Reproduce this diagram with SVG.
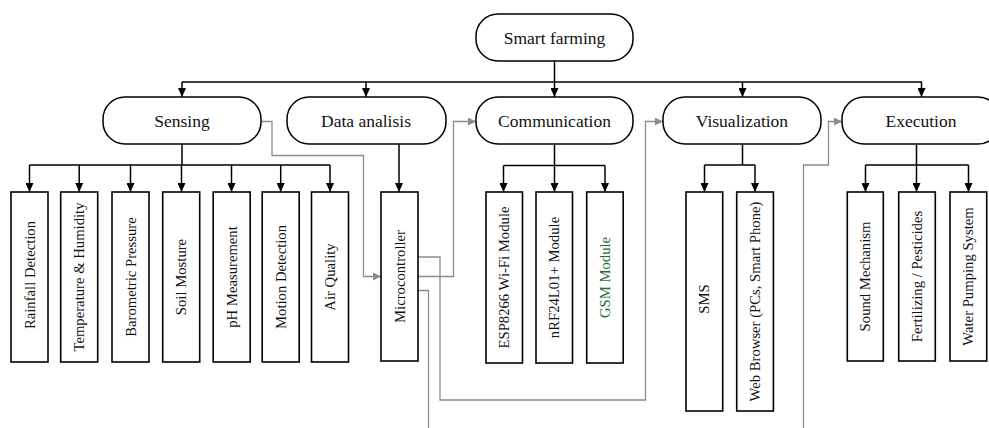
<svg xmlns="http://www.w3.org/2000/svg" width="989" height="428" viewBox="0 0 989 428">
<style>
.rr{fill:#fff;stroke:#000;stroke-width:1.5}
.bx{fill:#fff;stroke:#000;stroke-width:1.6}
.t{font-size:17.5px;fill:#111;text-anchor:middle}
.v{font-size:14.7px;fill:#111;text-anchor:middle}
.k{fill:none;stroke:#000;stroke-width:1.5}
.ka{fill:none;stroke:#000;stroke-width:1.5;marker-end:url(#ab)}
.g{fill:none;stroke:#8c8c8c;stroke-width:1.3}
.ga{fill:none;stroke:#8c8c8c;stroke-width:1.3;marker-end:url(#ag)}
</style>
<defs>
<marker id="ab" viewBox="0 0 9 8" markerWidth="9" markerHeight="8" refX="9" refY="4" orient="auto" markerUnits="userSpaceOnUse"><path d="M0,0 L9,4 L0,8 z" fill="#000"/></marker>
<marker id="ag" viewBox="0 0 8 8" markerWidth="8" markerHeight="8" refX="8" refY="4" orient="auto" markerUnits="userSpaceOnUse"><path d="M0,0 L8,4 L0,8 z" fill="#8c8c8c"/></marker>
</defs>
<rect width="989" height="428" fill="#fff"/>

<g id="connectors">
<path class="k" d="M554.5,61 V82 M182,82 H922"/>
<path class="ka" d="M182,82 V97"/>
<path class="ka" d="M366,82 V97"/>
<path class="ka" d="M554.5,82 V97"/>
<path class="ka" d="M742.5,82 V97"/>
<path class="ka" d="M921.5,82 V97"/>
<path class="k" d="M182,144 V165 M29.5,165 H330"/>
<path class="ka" d="M29.5,165 V192"/>
<path class="ka" d="M79.2,165 V192"/>
<path class="ka" d="M130.5,165 V192"/>
<path class="ka" d="M181.5,165 V192"/>
<path class="ka" d="M231.5,165 V192"/>
<path class="ka" d="M280.7,165 V192"/>
<path class="ka" d="M330,165 V192"/>
<path class="ka" d="M399,144 V192"/>
<path class="k" d="M554.5,144 V165.5 M503.5,165.5 H605"/>
<path class="ka" d="M503.5,165.5 V192"/>
<path class="ka" d="M554.5,165.5 V192"/>
<path class="ka" d="M605,165.5 V192"/>
<path class="k" d="M742.5,144 V165 M704.5,165 H755"/>
<path class="ka" d="M704.5,165 V192"/>
<path class="ka" d="M755,165 V192"/>
<path class="k" d="M916.5,144 V165 M865.5,165 H968.5"/>
<path class="ka" d="M865.5,165 V192"/>
<path class="ka" d="M916.5,165 V192"/>
<path class="ka" d="M968.5,165 V192"/>
<path class="ga" d="M261,121.5 H272 V155.5 H363.5 V276.5 H381"/>
<path class="ga" d="M418,276.5 H453.5 V121.5 H476"/>
<path class="ga" d="M418,257 H440 V400 H645.5 V121.5 H663"/>
<path class="g" d="M418,290.5 H428.5 V428"/>
<path class="ga" d="M803.5,428 V165 H828.5 V121.5 H842"/>
</g>

<g font-family="'Liberation Serif', 'Times New Roman', Times, serif">
<g id="smart-farming"><rect class="rr" x="476" y="14" width="157" height="47" rx="22"/><text class="t" x="554.5" y="44">Smart farming</text></g>
<g id="sensing"><rect class="rr" x="103" y="97" width="158" height="47" rx="22"/><text class="t" x="182" y="126.5">Sensing</text></g>
<g id="data-analisis"><rect class="rr" x="287" y="97" width="159" height="47" rx="22"/><text class="t" x="366" y="126.5">Data analisis</text></g>
<g id="communication"><rect class="rr" x="476" y="97" width="157" height="47" rx="22"/><text class="t" x="554.5" y="126.5">Communication</text></g>
<g id="visualization"><rect class="rr" x="663" y="97" width="158" height="47" rx="22"/><text class="t" x="742" y="126.5">Visualization</text></g>
<g id="execution"><rect class="rr" x="842" y="97" width="158" height="47" rx="22"/><text class="t" x="921" y="126.5">Execution</text></g>

<g id="rainfall"><rect class="bx" x="11" y="192" width="37" height="170"/><text class="v" transform="translate(29.5,275) rotate(-90)" y="5">Rainfall Detection</text></g>
<g id="temperature"><rect class="bx" x="60.7" y="192" width="37" height="170"/><text class="v" transform="translate(79.2,277) rotate(-90)" y="5">Temperature &amp; Humidity</text></g>
<g id="barometric"><rect class="bx" x="112" y="192" width="37" height="170"/><text class="v" transform="translate(130.5,277) rotate(-90)" y="5">Barometric Pressure</text></g>
<g id="soil"><rect class="bx" x="162.7" y="192" width="37" height="170"/><text class="v" transform="translate(181.2,277) rotate(-90)" y="5">Soil Mosture</text></g>
<g id="ph"><rect class="bx" x="213.2" y="192" width="37" height="170"/><text class="v" transform="translate(231.7,277) rotate(-90)" y="5">pH Measurement</text></g>
<g id="motion"><rect class="bx" x="262.2" y="192" width="37" height="170"/><text class="v" transform="translate(280.7,277) rotate(-90)" y="5">Motion Detection</text></g>
<g id="air"><rect class="bx" x="311.5" y="192" width="37" height="170"/><text class="v" transform="translate(330,277) rotate(-90)" y="5">Air Quality</text></g>

<g id="microcontroller"><rect class="bx" x="381" y="192" width="37" height="169"/><text class="v" transform="translate(399.5,276.5) rotate(-90)" y="5">Microcontroller</text></g>

<g id="esp8266"><rect class="bx" x="486" y="192" width="36.5" height="171"/><text class="v" transform="translate(504.2,277.5) rotate(-90)" y="5">ESP8266 Wi-Fi Module</text></g>
<g id="nrf24"><rect class="bx" x="536" y="192" width="36.5" height="171"/><text class="v" transform="translate(554.2,277.5) rotate(-90)" y="5">nRF24L01+ Module</text></g>
<g id="gsm"><rect class="bx" x="586.7" y="192" width="36.5" height="171"/><text class="v" transform="translate(605,277.5) rotate(-90)" y="5" fill="#1f6b3a" style="fill:#1f6b3a">GSM Module</text></g>

<g id="sms"><rect class="bx" x="686" y="192" width="36.7" height="219"/><text class="v" transform="translate(704.3,299) rotate(-90)" y="5">SMS</text></g>
<g id="web-browser"><rect class="bx" x="736.7" y="192" width="36.7" height="219"/><text class="v" transform="translate(755,301.5) rotate(-90)" y="5">Web Browser (PCs, Smart Phone)</text></g>

<g id="sound"><rect class="bx" x="847.3" y="192" width="36" height="169"/><text class="v" transform="translate(865.3,276.5) rotate(-90)" y="5">Sound Mechanism</text></g>
<g id="fertilizing"><rect class="bx" x="898.7" y="192" width="36.6" height="169"/><text class="v" transform="translate(917,276.5) rotate(-90)" y="5">Fertilizing / Pesticides</text></g>
<g id="water"><rect class="bx" x="950" y="192" width="36.7" height="169"/><text class="v" transform="translate(968.3,276.5) rotate(-90)" y="5">Water Pumping System</text></g>
</g>
</svg>
